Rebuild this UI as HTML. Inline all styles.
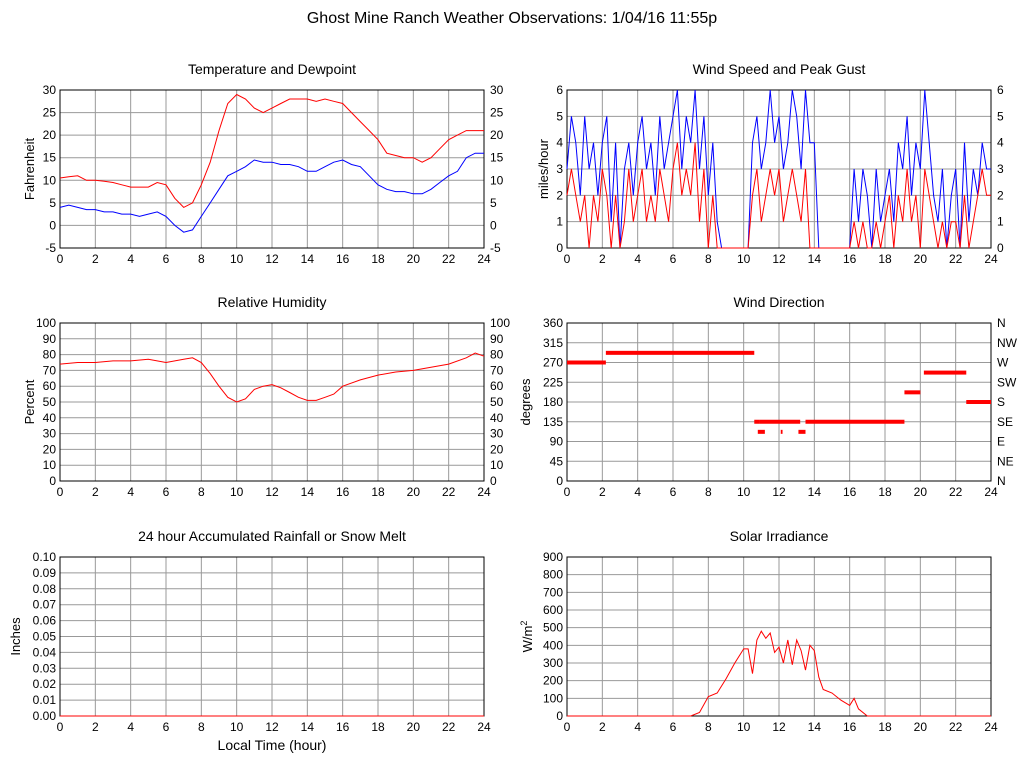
<!DOCTYPE html>
<html><head><meta charset="utf-8"><style>
body{margin:0;background:#fff}
svg{display:block;font-family:"Liberation Sans",sans-serif}
</style></head><body>
<svg id="c" width="1024" height="768" viewBox="0 0 1024 768">
<text x="512" y="23" font-size="16" text-anchor="middle">Ghost Mine Ranch Weather Observations: 1/04/16 11:55p</text>
</svg>
<script>
// ---- data ----
const halfHours = [0,0.5,1,1.5,2,2.5,3,3.5,4,4.5,5,5.5,6,6.5,7,7.5,8,8.5,9,9.5,10,10.5,11,11.5,12,12.5,13,13.5,14,14.5,15,15.5,16,16.5,17,17.5,18,18.5,19,19.5,20,20.5,21,21.5,22,22.5,23,23.5,24];
const tempF = [10.5,10.8,11,10,10,9.8,9.5,9,8.5,8.5,8.5,9.5,9,6,4,5,9,14,21,27,29,28,26,25,26,27,28,28,28,27.5,28,27.5,27,25,23,21,19,16,15.5,15,15,14,15,17,19,20,21,21,21];
const dewF = [4,4.5,4,3.5,3.5,3,3,2.5,2.5,2,2.5,3,2,0,-1.5,-1,2,5,8,11,12,13,14.5,14,14,13.5,13.5,13,12,12,13,14,14.5,13.5,13,11,9,8,7.5,7.5,7,7,8,9.5,11,12,15,16,16];
const rhHours = [0,1,2,3,4,5,6,7,7.5,8,8.5,9,9.5,10,10.5,11,11.5,12,12.5,13,13.5,14,14.5,15,15.5,16,17,18,19,20,21,22,23,23.5,24];
const rhPct = [74,75,75,76,76,77,75,77,78,75,68,60,53,50,52,58,60,61,59,56,53,51,51,53,55,60,64,67,69,70,72,74,78,81,79];
const windGust = [3,5,4,2,5,3,4,2,4,5,1,4, 0,3,4,2,4,5,3,4,2,5,3,4, 5,6,3,5,4,6,3,5,2,4,1,0, 0,0,0,0,0,0,4,5,3,4,6,4, 5,3,4,6,5,3,6,4,4,0,0,0, 0,0,0,0,0,3,1,3,2,0,3,1, 2,3,1,4,3,5,2,4,3,6,4,2, 1,3,0,2,3,0,4,1,3,2,4,3, 3];
const windSpeed = [2,3,2,1,2,0,2,1,3,2,0,2, 0,1,3,1,2,3,1,2,1,3,2,1, 3,4,2,3,2,4,1,3,0,2,0,0, 0,0,0,0,0,0,2,3,1,2,3,2, 3,1,2,3,2,1,3,0,0,0,0,0, 0,0,0,0,0,1,0,1,0,0,1,0, 1,2,0,2,1,3,1,2,0,3,2,1, 0,1,0,1,1,0,2,0,1,2,3,2, 2];
const dirStart = [0,2.2,10.6,10.8,10.9,12.1,13.1,13.5,19.1,20.2,22.6];
const dirEnd   = [2.2,10.6,10.9,11.2,13.2,12.2,13.5,19.1,20,22.6,24];
const dirDeg   = [270,292,135,112,135,112,112,135,202,247,180];
const solarHours = [0,7,7.5,8,8.5,9,9.5,10,10.25,10.5,10.75,11,11.25,11.5,11.75,12,12.25,12.5,12.75,13,13.25,13.5,13.75,14,14.25,14.5,15,15.5,16,16.25,16.5,17,24];
const solarW = [0,0,20,110,130,210,300,380,380,240,430,480,440,470,360,390,300,430,290,430,370,260,400,370,220,150,130,90,60,100,40,0,0];
const rainHours = [0,24];
const rainIn = [0,0];
const xTicks = [0,2,4,6,8,10,12,14,16,18,20,22,24];
const dirLabels = ["N","NE","E","SE","S","SW","W","NW","N"];

const NS="http://www.w3.org/2000/svg";
const svg=document.getElementById('c');
function el(tag,attrs,parent){const e=document.createElementNS(NS,tag);for(const k in attrs)e.setAttribute(k,attrs[k]);(parent||svg).appendChild(e);return e;}

function panel(p){
  const g=el('g',{});
  
  
  const W=p.x1-p.x0,H=p.y1-p.y0;
  const sx=v=>p.x0+v/24*W;
  const sy=v=>p.y1-(v-p.ymin)/(p.ymax-p.ymin)*H;
  const t=el('text',{x:(p.x0+p.x1)/2,y:p.y0-16,'font-size':14,'text-anchor':'middle'},g);
  t.textContent=p.title;
  
  
  // grid
  for(const h of xTicks){
    el('line',{x1:sx(h),x2:sx(h),y1:p.y0,y2:p.y1,stroke:'#999','stroke-width':1},g);
    const l=el('text',{x:sx(h),y:p.y1+15,'font-size':12,'text-anchor':'middle'},g);
    l.textContent=h;
    
    
  }
  const n=Math.round((p.ymax-p.ymin)/p.ystep);
  for(let i=0;i<=n;i++){
    const v=p.ymin+i*p.ystep, y=sy(v);
    el('line',{x1:p.x0,x2:p.x1,y1:y,y2:y,stroke:'#999','stroke-width':1},g);
    const lab=p.fmt?p.fmt(v):String(Math.round(v*100)/100);
    const l=el('text',{x:p.x0-4,y:y+4,'font-size':12,'text-anchor':'end'},g);
    l.textContent=lab;
    
    
    if(p.right){
      const r=el('text',{x:p.x1+6,y:y+4,'font-size':12,'text-anchor':'start'},g);
      r.textContent=p.rightLabels?p.rightLabels[i]:lab;
      
      
    }
  }
  el('rect',{x:p.x0,y:p.y0,width:W,height:H,fill:'none',stroke:'#000','stroke-width':1},g);
  const yt=el('text',{x:0,y:0,'font-size':13,'text-anchor':'middle',transform:`translate(${p.ylx},${(p.y0+p.y1)/2}) rotate(-90)`},g);
  yt.textContent=p.ylabel;
  if(p.sup){const ts=el('tspan',{dy:-5,'font-size':9},yt);ts.textContent=p.sup;}
  
  
  return {g,sx,sy};
}
function line(P,xs,ys,color,name){
  const d=xs.map((x,i)=>(i?'L':'M')+P.sx(x).toFixed(1)+','+P.sy(ys[i]).toFixed(1)).join('');
  const pth=el('path',{d,fill:'none',stroke:color,'stroke-width':1},P.g);
  
  
}
const quarter=windGust.map((_,i)=>i*0.25);

const T=panel({name:'temperature-panel',title:'Temperature and Dewpoint',x0:60,x1:484,y0:90,y1:248,ymin:-5,ymax:30,ystep:5,right:true,ylabel:'Fahrenheit',ylx:34});
line(T,halfHours,tempF,'#f00','temperature-line');
line(T,halfHours,dewF,'#00f','dewpoint-line');

const Wd=panel({name:'wind-speed-panel',title:'Wind Speed and Peak Gust',x0:567,x1:991,y0:90,y1:248,ymin:0,ymax:6,ystep:1,right:true,ylabel:'miles/hour',ylx:548});
line(Wd,quarter,windGust,'#00f','gust-line');
line(Wd,quarter,windSpeed,'#f00','speed-line');

const R=panel({name:'humidity-panel',title:'Relative Humidity',x0:60,x1:484,y0:323,y1:481,ymin:0,ymax:100,ystep:10,right:true,ylabel:'Percent',ylx:34});
line(R,rhHours,rhPct,'#f00','humidity-line');

const D=panel({name:'wind-direction-panel',title:'Wind Direction',x0:567,x1:991,y0:323,y1:481,ymin:0,ymax:360,ystep:45,right:true,rightLabels:dirLabels,ylabel:'degrees',ylx:530});
dirDeg.forEach((deg,i)=>{
  const r=el('rect',{x:D.sx(dirStart[i]),y:D.sy(deg)-2,width:D.sx(dirEnd[i])-D.sx(dirStart[i]),height:4,fill:'#f00'},D.g);
  
  
});

const Rn=panel({name:'rainfall-panel',title:'24 hour Accumulated Rainfall or Snow Melt',x0:60,x1:484,y0:557,y1:716,ymin:0,ymax:0.1,ystep:0.01,fmt:v=>v.toFixed(2),ylabel:'Inches',ylx:20});
line(Rn,rainHours,rainIn,'#f00','rainfall-line');
const xl=el('text',{x:272,y:750,'font-size':14,'text-anchor':'middle'});
xl.textContent='Local Time (hour)';



const S=panel({name:'solar-panel',title:'Solar Irradiance',x0:567,x1:991,y0:557,y1:716,ymin:0,ymax:900,ystep:100,ylabel:'W/m',sup:'2',ylx:532});
line(S,solarHours,solarW,'#f00','solar-line');
</script>
</body></html>
